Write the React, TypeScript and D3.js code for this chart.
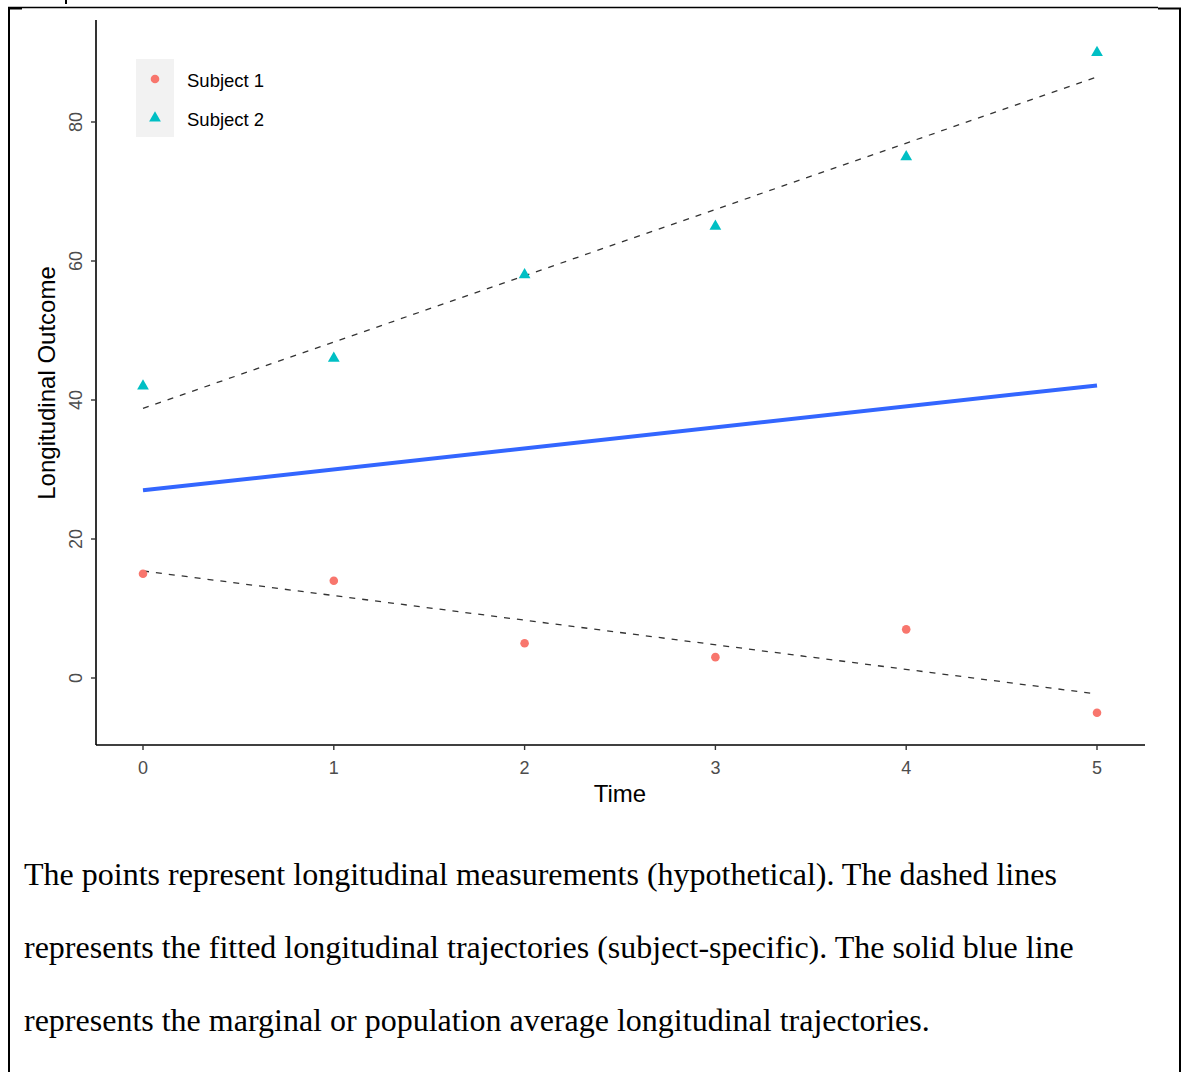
import React from "react";
import * as d3 from "d3";

const times = [0, 1, 2, 3, 4, 5];
const subject1 = [15, 14, 5, 3, 7, -5];
const subject2 = [42, 46, 58, 65, 75, 90];
const fitTimes = [0, 5];
const fit1 = [15.4, -2.3];
const fit2 = [38.8, 86.5];
const marginal = [27, 42.1];
const yTicks = [0, 20, 40, 60, 80];
const legendLabels = ["Subject 1", "Subject 2"];
const captionLines = [
  "The points represent longitudinal measurements (hypothetical). The dashed lines",
  "represents the fitted longitudinal trajectories (subject-specific). The solid blue line",
  "represents the marginal or population average longitudinal trajectories.",
];

const W = 1184;
const H = 1072;
const C1 = "#F8766D";
const C2 = "#00BFC4";

export default function App() {
  const x = d3.scaleLinear().domain([0, 5]).range([143, 1097]);
  const y = d3.scaleLinear().domain([0, 80]).range([678, 122]);
  const line = d3
    .line<[number, number]>()
    .x((d) => x(d[0]))
    .y((d) => y(d[1]));
  const tri = d3.symbol().type(d3.symbolTriangle).size(60)();
  const sans = "Arial, 'Liberation Sans', Helvetica, sans-serif";
  const serif = "'Times New Roman', 'Liberation Serif', serif";
  const axLeft = 96;
  const axBottom = 745;
  return (
    <svg
      width={W}
      height={H}
      style={{ position: "absolute", left: 0, top: 0, background: "#fff" }}
    >
      {/* page frame */}
      <line x1={8} y1={7.5} x2={1158} y2={7.5} stroke="#000" strokeWidth={1.5} />
      <line x1={8} y1={8.5} x2={22} y2={8.5} stroke="#000" strokeWidth={2} />
      <line x1={1158} y1={8.5} x2={1181} y2={8.5} stroke="#000" strokeWidth={2} />
      <line x1={9} y1={8} x2={9} y2={H} stroke="#000" strokeWidth={2} />
      <line x1={1180} y1={8} x2={1180} y2={H} stroke="#000" strokeWidth={2} />
      <line x1={66} y1={0} x2={66} y2={4} stroke="#000" strokeWidth={2} />

      {/* axes */}
      <line x1={axLeft} y1={20} x2={axLeft} y2={axBottom} stroke="#000" strokeWidth={1.6} />
      <line x1={axLeft} y1={axBottom} x2={1145} y2={axBottom} stroke="#000" strokeWidth={1.6} />
      {yTicks.map((t) => (
        <g key={"y" + t}>
          <line x1={axLeft - 5} x2={axLeft} y1={y(t)} y2={y(t)} stroke="#333" strokeWidth={1.4} />
          <text
            transform={`translate(81.5,${y(t)}) rotate(-90)`}
            textAnchor="middle"
            fontFamily={sans}
            fontSize={18}
            fill="#4D4D4D"
          >
            {t}
          </text>
        </g>
      ))}
      {times.map((t) => (
        <g key={"x" + t}>
          <line x1={x(t)} x2={x(t)} y1={axBottom} y2={axBottom + 5} stroke="#333" strokeWidth={1.4} />
          <text x={x(t)} y={774} textAnchor="middle" fontFamily={sans} fontSize={18} fill="#4D4D4D">
            {t}
          </text>
        </g>
      ))}
      <text x={620} y={802} textAnchor="middle" fontFamily={sans} fontSize={24} fill="#000">
        Time
      </text>
      <text
        transform={`translate(55,383) rotate(-90)`}
        textAnchor="middle"
        fontFamily={sans}
        fontSize={24}
        fill="#000"
      >
        Longitudinal Outcome
      </text>

      {/* fitted lines */}
      <path
        d={line(fitTimes.map((t, i) => [t, fit1[i]]) as [number, number][]) || ""}
        fill="none"
        stroke="#333"
        strokeWidth={1.3}
        strokeDasharray="6,7"
      />
      <path
        d={line(fitTimes.map((t, i) => [t, fit2[i]]) as [number, number][]) || ""}
        fill="none"
        stroke="#333"
        strokeWidth={1.3}
        strokeDasharray="6,7"
      />
      <path
        d={line(fitTimes.map((t, i) => [t, marginal[i]]) as [number, number][]) || ""}
        fill="none"
        stroke="#3366FF"
        strokeWidth={4}
      />

      {/* points */}
      {times.map((t, i) => (
        <circle key={"p1" + t} cx={x(t)} cy={y(subject1[i])} r={4.3} fill={C1} />
      ))}
      {times.map((t, i) => (
        <path key={"p2" + t} d={tri || ""} transform={`translate(${x(t)},${y(subject2[i])})`} fill={C2} />
      ))}

      {/* legend */}
      <rect x={136} y={59} width={38} height={78} fill="#F2F2F2" />
      <circle cx={155} cy={79} r={4.3} fill={C1} />
      <path d={tri || ""} transform={`translate(155,118)`} fill={C2} />
      {legendLabels.map((l, i) => (
        <text key={l} x={187} y={86.5 + i * 39} fontFamily={sans} fontSize={18.5} fill="#000">
          {l}
        </text>
      ))}

      {/* caption */}
      {captionLines.map((l, i) => (
        <text key={i} x={24} y={885 + i * 73} fontFamily={serif} fontSize={32} fill="#000">
          {l}
        </text>
      ))}
    </svg>
  );
}
